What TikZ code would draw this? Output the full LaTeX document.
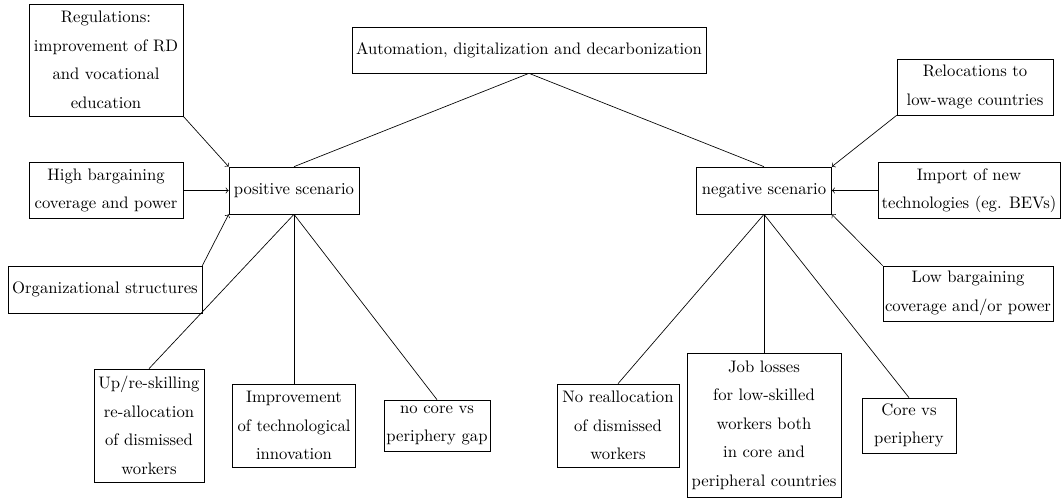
\documentclass[tikz,border=0pt]{standalone}
\begin{document}
\begin{tikzpicture}[x=0.6pt,y=-0.6pt,
  box/.style={draw, align=center, inner sep=0pt, font=\fontsize{10}{17.1}\selectfont},
  arr/.style={->}]
\useasboundingbox (0,0) rectangle (1061,500);
\node[box, minimum width=354*0.6pt, minimum height=46*0.6pt] (top) at (529,50) {Automation, digitalization and decarbonization};
\node[box, minimum width=130*0.6pt, minimum height=47*0.6pt] (pos) at (294,190.5) {positive scenario};
\node[box, minimum width=135*0.6pt, minimum height=47*0.6pt] (neg) at (764,190.5) {negative scenario};
\node[box, minimum width=154*0.6pt, minimum height=112*0.6pt] (reg) at (106,60) {Regulations:\\improvement of RD\\and vocational\\education};
\node[box, minimum width=154*0.6pt, minimum height=56*0.6pt] (high) at (106,190.5) {High bargaining\\coverage and power};
\node[box, minimum width=194*0.6pt, minimum height=47*0.6pt] (org) at (105,289.5) {Organizational structures};
\node[box, minimum width=156*0.6pt, minimum height=56*0.6pt] (reloc) at (975,87) {Relocations to\\low-wage countries};
\node[box, minimum width=182*0.6pt, minimum height=56*0.6pt] (imp) at (969,190.5) {Import of new\\technologies (eg. BEVs)};
\node[box, minimum width=170*0.6pt, minimum height=55*0.6pt] (low) at (968,293.5) {Low bargaining\\coverage and/or power};
\node[box, minimum width=110*0.6pt, minimum height=113*0.6pt] (up) at (149,425.5) {Up/re-skilling\\re-allocation\\of dismissed\\workers};
\node[box, minimum width=123*0.6pt, minimum height=83*0.6pt] (impr) at (294,425.5) {Improvement\\of technological\\innovation};
\node[box, minimum width=106*0.6pt, minimum height=51*0.6pt] (nocore) at (437,425.5) {no core vs\\periphery gap};
\node[box, minimum width=122*0.6pt, minimum height=83*0.6pt] (norealloc) at (618,425.5) {No reallocation\\of dismissed\\workers};
\node[box, minimum width=154*0.6pt, minimum height=144*0.6pt] (job) at (764,425) {Job losses\\for low-skilled\\workers both\\in core and\\peripheral countries};
\node[box, minimum width=94*0.6pt, minimum height=55*0.6pt] (core) at (909,425.5) {Core vs\\periphery};
\draw (top.south) -- (pos.north);
\draw (top.south) -- (neg.north);
\draw[arr] (reg.south east) -- (pos.north west);
\draw[arr] (high.east) -- (pos.west);
\draw[arr] (org.north east) -- (pos.south west);
\draw[arr] (reloc.south west) -- (neg.north east);
\draw[arr] (imp.west) -- (neg.east);
\draw[arr] (low.north west) -- (neg.south east);
\draw (pos.south) -- (up.north);
\draw (pos.south) -- (impr.north);
\draw (pos.south) -- (nocore.north);
\draw (neg.south) -- (norealloc.north);
\draw (neg.south) -- (job.north);
\draw (neg.south) -- (core.north);
\end{tikzpicture}
\end{document}
